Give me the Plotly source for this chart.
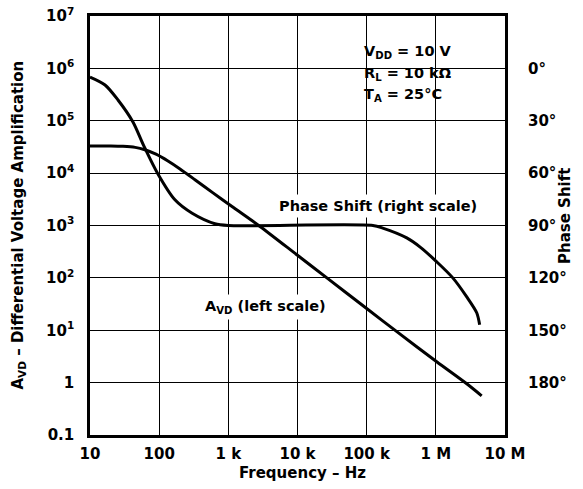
import plotly.graph_objects as go

# ---- data ----
freq_avd = [10, 20, 30, 45, 62, 90, 134, 200, 329, 600, 1130, 2900, 10000, 26600,
            100000, 273000, 1030000, 2800000, 4600000]
avd = [3.3e4, 3.3e4, 3.25e4, 3.1e4, 2.8e4, 2.3e4, 1.7e4, 1.2e4, 7.5e3, 4.2e3, 2.3e3,
       950, 270, 100, 26, 9.4, 2.5, 0.95, 0.56]

freq_phase = [10, 16.5, 25.4, 41.8, 60, 96, 169, 300, 640, 1000, 123000, 171000, 380000,
              600000, 1030000, 1760000, 2800000, 3900000, 4300000]
phase = [5, 9.5, 18.1, 30.7, 44.4, 60.5, 75.3, 83, 89, 90, 90, 91.5, 97.1,
         102.5, 110.8, 120, 130.9, 140, 146.9]

x_tickvals = [10, 100, 1e3, 1e4, 1e5, 1e6, 1e7]
x_ticktext = ["10", "100", "1 k", "10 k", "100 k", "1 M", "10 M"]
y_tickvals = [0.1, 1, 10, 100, 1e3, 1e4, 1e5, 1e6, 1e7]
y_ticktext = ["0.1", "1", "10<sup>1</sup>", "10<sup>2</sup>", "10<sup>3</sup>",
              "10<sup>4</sup>", "10<sup>5</sup>", "10<sup>6</sup>", "10<sup>7</sup>"]
p_tickvals = [0, 30, 60, 90, 120, 150, 180]
p_ticktext = ["0°", "30°", "60°", "90°", "120°", "150°", "180°"]

FONT = "DejaVu Sans"
fnt = dict(family=FONT, size=15, color="black", weight="bold")
afnt = dict(family=FONT, size=14.5, color="black", weight="bold")

fig = go.Figure()
fig.add_trace(go.Scatter(x=freq_avd, y=avd, mode="lines",
                         line=dict(color="black", width=3, shape="spline", smoothing=0.8),
                         yaxis="y", showlegend=False))
fig.add_trace(go.Scatter(x=freq_phase, y=phase, mode="lines",
                         line=dict(color="black", width=3, shape="spline", smoothing=0.8),
                         yaxis="y2", showlegend=False))

fig.update_layout(
    width=583, height=489, autosize=False,
    margin=dict(l=90, r=78, t=16, b=54, autoexpand=False),
    paper_bgcolor="white", plot_bgcolor="white",
    font=fnt,
    xaxis=dict(type="log", range=[1, 7], tickvals=x_tickvals, ticktext=x_ticktext,
               showgrid=True, gridcolor="black", gridwidth=1.2,
               showline=True, linecolor="black", linewidth=2.5, mirror=True,
               ticks="outside", ticklen=3, tickcolor="rgba(0,0,0,0)",
               tickfont=fnt, zeroline=False, automargin=False,
               ticklabeloverflow="allow"),
    yaxis=dict(type="log", range=[-1, 7], tickvals=y_tickvals, ticktext=y_ticktext,
               showgrid=True, gridcolor="black", gridwidth=1.2,
               showline=True, linecolor="black", linewidth=2.5, mirror=True,
               ticks="outside", ticklen=10, tickcolor="rgba(0,0,0,0)",
               tickfont=fnt, zeroline=False, automargin=False,
               ticklabeloverflow="allow"),
    yaxis2=dict(overlaying="y", side="right", range=[210, -30],
                tickvals=p_tickvals, ticktext=p_ticktext, showgrid=False,
                showline=False, zeroline=False,
                ticks="outside", ticklen=19, tickcolor="rgba(0,0,0,0)",
                tickfont=fnt, automargin=False, ticklabeloverflow="allow"),
)

def px_x(px):
    return (px - 90) / 415.0

def px_y(py):
    return (435 - py) / 419.0

# white box behind the condition text (hides gridlines)
fig.add_shape(type="rect", xref="paper", yref="paper",
              x0=px_x(352), x1=px_x(477), y0=px_y(110), y1=px_y(27),
              fillcolor="white", line=dict(width=0), layer="between")

ann = []
ann.append(dict(text="A<sub>VD</sub> – Differential Voltage Amplification",
                x=px_x(18), y=0.5, textangle=-90, font=fnt))
ann.append(dict(text="Phase Shift", x=px_x(565), y=px_y(216), textangle=-90, font=fnt))
ann.append(dict(text="Frequency – Hz", x=px_x(302), y=px_y(473), font=fnt))
ann.append(dict(text="V<sub>DD</sub> = 10 V", x=px_x(362), y=px_y(52), xanchor="left"))
ann.append(dict(text="R<sub>L</sub> = 10 kΩ", x=px_x(362), y=px_y(74), xanchor="left"))
ann.append(dict(text="T<sub>A</sub> = 25°C", x=px_x(362), y=px_y(95), xanchor="left"))
ann.append(dict(text="Phase Shift (right scale)", x=px_x(378), y=px_y(206),
                bgcolor="white", borderpad=3))
ann.append(dict(text="A<sub>VD</sub> (left scale)", x=px_x(265), y=px_y(307),
                bgcolor="white", borderpad=3))

for a in ann:
    base = dict(xref="paper", yref="paper", showarrow=False, font=afnt,
                xanchor="center", yanchor="middle")
    base.update(a)
    fig.add_annotation(**base)

# remove the browser's default 8px body margin so the figure sits at the window origin
fig.write_html("out.html", config={"displayModeBar": False},
               post_script="document.body.style.margin='0px';")
